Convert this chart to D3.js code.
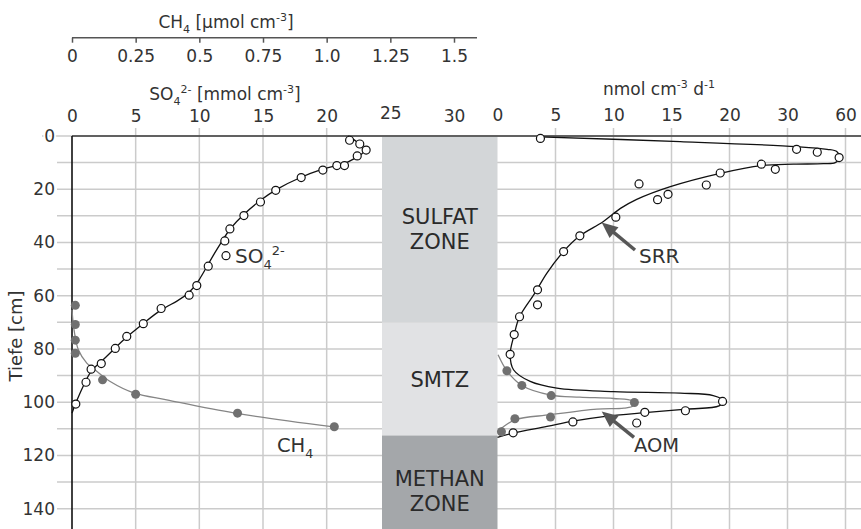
<!DOCTYPE html>
<html>
<head>
	<meta charset="utf-8">
	<title>Sulfat / Methan Profil</title>
	<script type="text/javascript" src="https://cdn.jsdelivr.net/npm/d3@7/dist/d3.min.js"></script>
	<style type="text/css">
		body{
			margin: 0;
			background-color: #fff;
		}
		svg{
			display: block;
			font-family: "DejaVu Sans", Verdana, sans-serif;
		}
	</style>
</head>
<body>
<div class="paint"></div>
<script type="text/javascript">
// depth [cm] and values
var so4Depth = [1.6, 3.0, 5.3, 7.5, 11.1, 11.1, 12.8, 15.6, 20.4, 24.8, 29.9, 34.9, 39.4, 48.9, 56.2, 59.8, 64.8, 70.5, 75.3, 79.8, 85.5, 87.6, 92.5, 100.7];
var so4Value = [21.8, 22.6, 23.1, 22.4, 20.8, 21.4, 19.7, 18.0, 16.0, 14.8, 13.5, 12.4, 12.0, 10.7, 9.8, 9.2, 7.0, 5.6, 4.3, 3.4, 2.3, 1.5, 1.1, 0.3];
// fitted line drawn through the sulfate profile
var so4FitDepth = [0, 2.5, 5.0, 6.8, 8.4, 10.3, 11.3, 12.3, 15.3, 20.0, 24.4, 29.7, 34.7, 39.4, 44.7, 49.0, 54.1, 58.7, 62.2, 65.1, 70.5, 75.3, 79.8, 84.7, 87.8, 91.6, 100.3, 104.1];
var so4FitValue = [21.7, 22.5, 23.1, 22.8, 22.2, 21.5, 20.6, 19.7, 18.0, 16.0, 14.7, 13.4, 12.4, 11.8, 11.1, 10.6, 10.0, 9.3, 8.25, 6.96, 5.6, 4.32, 3.35, 2.33, 1.52, 1.1, 0.28, 0];

var ch4Depth = [63.6, 70.8, 76.7, 81.6, 91.6, 97.0, 104.1, 109.2];
var ch4Value = [0.013, 0.013, 0.013, 0.013, 0.12, 0.25, 0.65, 1.03];
var ch4FitDepth = [65.3, 72.8, 80.3, 85.3, 87.8, 92.2, 96.6, 99.1, 104.1, 109.2];
var ch4FitValue = [0, 0.008, 0.025, 0.058, 0.09, 0.15, 0.246, 0.372, 0.64, 1.02];

var srrDepth = [0.9, 5.0, 6.1, 8.1, 10.6, 12.5, 13.9, 18.0, 18.4, 23.9, 21.9, 30.5, 37.5, 43.4, 57.8, 63.4, 67.9, 74.6, 82.0, 99.7, 103.2, 103.8, 107.8, 107.4, 111.5];
var srrValue = [3.7, 34.7, 45.4, 56.7, 25.5, 27.9, 19.2, 12.2, 18.0, 13.8, 14.7, 10.2, 7.1, 5.7, 3.45, 3.45, 1.9, 1.44, 1.09, 19.4, 16.2, 12.7, 12.0, 6.5, 1.35];
var srrFitDepth = [0.3, 2.1, 4.0, 5.0, 5.9, 8.0, 10.0, 10.4, 10.6, 11.1, 14.0, 19.0, 23.8, 27.2, 32.2, 37.5, 43.4, 51.5, 58.8, 67.9, 74.6, 82.0, 87.8, 92.2, 94.7, 96.0, 96.6, 97.5, 99.5, 101.4, 102.6, 103.9, 105.4, 107.1, 109.1, 111.6, 113.2];
var srrFitValue = [3.6, 15.75, 34.7, 50.5, 55.6, 57.0, 54.7, 48.6, 33.1, 25.5, 19.2, 14.9, 12.0, 10.6, 9.1, 7.1, 5.69, 4.26, 3.25, 1.9, 1.44, 1.09, 1.38, 2.82, 5.12, 10.0, 15.75, 18.6, 19.5, 19.1, 16.3, 12.7, 9.14, 6.5, 4.26, 1.35, 0];

var aomDepth = [88.2, 93.7, 97.5, 100.1, 105.6, 106.2, 111.1];
var aomValue = [0.81, 2.1, 4.63, 11.8, 4.57, 1.5, 0.34];
var aomFitDepth = [82.2, 88.2, 93.7, 97.3, 98.1, 98.6, 99.5, 101.4, 102.2, 102.6, 104.7, 106.6, 109.7, 110.4];
var aomFitValue = [0.05, 0.81, 2.1, 4.6, 7.1, 10.0, 11.6, 11.67, 10.9, 8.57, 4.57, 1.5, 0.34, 0.05];

// zones
var zoneLines = [["SULFAT", "ZONE"], ["SMTZ"], ["METHAN", "ZONE"]];
var zoneTop = [0, 70, 112.5];
var zoneBottom = [70, 112.5, 154];

// tick labels
var ch4Ticks = [0, 0.25, 0.5, 0.75, 1.0, 1.25, 1.5];
var ch4TickLabels = ["0", "0.25", "0.5", "0.75", "1.0", "1.25", "1.5"];
var so4Ticks = [0, 5, 10, 15, 20, 25, 30];
var rateTicks = [0, 5, 10, 15, 20, 30, 60];
var depthTicks = [0, 20, 40, 60, 80, 100, 120, 140];

var W = 861, H = 529;
var zoneFill = ["#d3d6d8", "#e1e2e4", "#a4a7aa"];
var gridColor = "#cbcbcb";
var textColor = "#333";

var svg = d3.select('.paint').append('svg').attr('width', W).attr('height', H);
svg.append('rect').attr('width', W).attr('height', H).attr('fill', '#fff');

var y = d3.scaleLinear().domain([0, 140]).range([136, 508.7]);
var xL = d3.scaleLinear().domain([0, 30]).range([72, 454]);
var xC = d3.scaleLinear().domain([0, 1.5]).range([72, 454]);
// broken rate axis: equally spaced labels 0 5 10 15 20 30 60
var xR = d3.scaleLinear().domain(rateTicks).range(rateTicks.map(function(d, i){ return 497.5 + i*58; }));
var zoneX0 = 382, zoneX1 = xR(0);

// grid
svg.append('g').selectAll('line').data(d3.range(0, 150, 10)).enter().append('line')
	.attr('x1', function(d){ return d === 0 ? 42 : 57; })
	.attr('x2', W)
	.attr('y1', function(d){ return y(d); })
	.attr('y2', function(d){ return y(d); })
	.attr('stroke', gridColor).attr('stroke-width', 1.5);
var vgrid = so4Ticks.filter(function(t){ return t > 0 && xL(t) < zoneX0; }).map(function(t){ return xL(t); })
	.concat(rateTicks.filter(function(t){ return t > 0; }).map(function(t){ return xR(t); }));
svg.append('g').selectAll('line').data(vgrid).enter().append('line')
	.attr('x1', function(d){ return d; }).attr('x2', function(d){ return d; })
	.attr('y1', 128).attr('y2', H)
	.attr('stroke', gridColor).attr('stroke-width', 1.5);

// zones
zoneLines.forEach(function(lines, i){
	svg.append('rect')
		.attr('x', zoneX0).attr('width', zoneX1 - zoneX0)
		.attr('y', y(zoneTop[i])).attr('height', y(zoneBottom[i]) - y(zoneTop[i]))
		.attr('fill', zoneFill[i]);
	var yc = y((zoneTop[i] + zoneBottom[i]) / 2);
	var t = svg.append('text')
		.attr('x', (zoneX0 + zoneX1) / 2)
		.attr('text-anchor', 'middle')
		.style('font-size', '21px')
		.attr('fill', '#2a2a2a');
	lines.forEach(function(s, j){
		t.append('tspan')
			.attr('x', (zoneX0 + zoneX1) / 2)
			.attr('y', yc - 12.5*(lines.length - 1) + 7.6 + j*25)
			.text(s);
	});
});

// frame
svg.append('line').attr('x1', 72).attr('x2', W).attr('y1', y(0)).attr('y2', y(0))
	.attr('stroke', '#3a3a3a').attr('stroke-width', 1.6);
svg.append('line').attr('x1', 72).attr('x2', 72).attr('y1', y(0)).attr('y2', H)
	.attr('stroke', '#111').attr('stroke-width', 1.6);

// curves
function fit(depths, values, sx, color, curve){
	var pts = depths.map(function(d, i){ return [sx(values[i]), y(d)]; });
	svg.append('path')
		.attr('d', d3.line().curve(curve || d3.curveCatmullRom.alpha(0.5))(pts))
		.attr('fill', 'none').attr('stroke', color).attr('stroke-width', 1.3);
}
fit(ch4FitDepth, ch4FitValue, xC, '#858585');
fit(aomFitDepth, aomFitValue, xR, '#858585');
fit(so4FitDepth, so4FitValue, xL, '#111', d3.curveBasis);
fit(srrFitDepth, srrFitValue, xR, '#111');

function dots(depths, values, sx, open){
	svg.append('g').selectAll('circle').data(depths).enter().append('circle')
		.attr('cx', function(d, i){ return sx(values[i]); })
		.attr('cy', function(d){ return y(d); })
		.attr('r', open ? 4 : 4.5)
		.attr('fill', open ? '#fff' : '#707070')
		.attr('stroke', open ? '#111' : 'none')
		.attr('stroke-width', 1.2);
}
dots(ch4Depth, ch4Value, xC, false);
dots(aomDepth, aomValue, xR, false);
dots(so4Depth, so4Value, xL, true);
dots(srrDepth, srrValue, xR, true);

// text with sub/superscripts
function richText(x, yy, parts, size, anchor){
	var t = svg.append('text').attr('x', x).attr('y', yy)
		.attr('text-anchor', anchor).style('font-size', size + 'px').attr('fill', textColor);
	var shift = 0;
	parts.forEach(function(p){
		var s = p.sub ? size*0.3 : (p.sup ? -size*0.4 : 0);
		t.append('tspan').attr('dy', s - shift)
			.style('font-size', (p.sub || p.sup ? size*0.65 : size) + 'px')
			.text(p.t);
		shift = s;
	});
	return t;
}
richText(226, 28, [{t:'CH'}, {t:'4', sub:true}, {t:' [µmol cm'}, {t:'-3', sup:true}, {t:']'}], 17, 'middle');
richText(225, 100, [{t:'SO'}, {t:'4', sub:true}, {t:'2-', sup:true}, {t:' [mmol cm'}, {t:'-3', sup:true}, {t:']'}], 17, 'middle');
richText(659, 95, [{t:'nmol cm'}, {t:'-3', sup:true}, {t:' d'}, {t:'-1', sup:true}], 17, 'middle');

// in-plot labels
svg.append('circle').attr('cx', 226).attr('cy', 255.7).attr('r', 4)
	.attr('fill', '#fff').attr('stroke', '#111').attr('stroke-width', 1.2);
richText(235, 263, [{t:'SO'}, {t:'4', sub:true}, {t:'2-', sup:true}], 20, 'start');
richText(277, 451.7, [{t:'CH'}, {t:'4', sub:true}], 19.5, 'start');
richText(639, 263.3, [{t:'SRR'}], 20, 'start');
richText(634, 451.7, [{t:'AOM'}], 19.5, 'start');

function arrow(x1, y1, x2, y2){
	var dx = x2 - x1, dy = y2 - y1, len = Math.sqrt(dx*dx + dy*dy);
	var ux = dx/len, uy = dy/len, hl = 16, hw = 7;
	var bx = x2 - ux*hl, by = y2 - uy*hl;
	svg.append('line').attr('x1', x1).attr('y1', y1).attr('x2', bx + ux*2).attr('y2', by + uy*2)
		.attr('stroke', '#575757').attr('stroke-width', 3.5);
	svg.append('path')
		.attr('d', 'M' + x2 + ',' + y2 + 'L' + (bx - uy*hw) + ',' + (by + ux*hw) + 'L' + (bx + uy*hw) + ',' + (by - ux*hw) + 'Z')
		.attr('fill', '#575757');
}
arrow(635, 250, 601.7, 222.5);
arrow(634, 437.3, 601.7, 411.5);

// axes
function styleAxis(g){
	g.select('.domain').remove();
	g.attr('font-family', null).attr('font-size', null);
	g.selectAll('text').style('font-size', '17px').attr('fill', textColor);
	g.selectAll('.tick line').attr('stroke', '#555').attr('stroke-width', 1.5);
}
var gC = svg.append('g').attr('transform', 'translate(0,37.7)')
	.call(d3.axisBottom(xC).tickValues(ch4Ticks)
		.tickFormat(function(d, i){ return ch4TickLabels[i]; })
		.tickSizeInner(5).tickSizeOuter(0).tickPadding(7));
styleAxis(gC);
gC.append('line').attr('x1', 72).attr('x2', 477).attr('stroke', '#555').attr('stroke-width', 1.5);

var gS = svg.append('g').attr('transform', 'translate(0,128)')
	.call(d3.axisTop(xL).tickValues(so4Ticks).tickSize(0).tickPadding(6));
styleAxis(gS);
gS.selectAll('.tick text').filter(function(d){ return d === 25; }).attr('dy', '-0.2em');

var gR = svg.append('g').attr('transform', 'translate(0,128)')
	.call(d3.axisTop(xR).tickValues(rateTicks).tickFormat(d3.format('d')).tickSize(0).tickPadding(7));
styleAxis(gR);

var gY = svg.append('g').attr('transform', 'translate(57,0)')
	.call(d3.axisLeft(y).tickValues(depthTicks).tickSize(0).tickPadding(2));
styleAxis(gY);
gY.selectAll('text').attr('stroke', '#fff').attr('stroke-width', 4).attr('paint-order', 'stroke');

svg.append('text')
	.attr('transform', 'translate(22,336) rotate(-90)')
	.attr('text-anchor', 'middle')
	.style('font-size', '18px')
	.attr('fill', textColor)
	.text('Tiefe [cm]');
</script>
</body>
</html>
